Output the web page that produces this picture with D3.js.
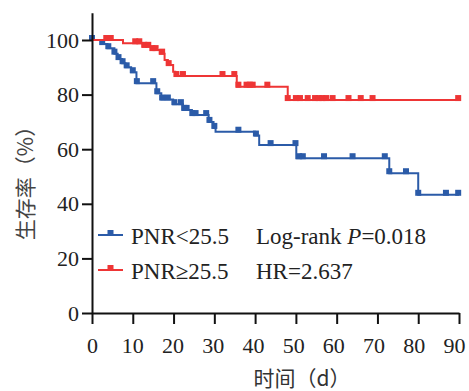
<!DOCTYPE html>
<html>
<head>
<meta charset="utf-8">
<script src="https://cdn.jsdelivr.net/npm/d3@7/dist/d3.min.js"></script>
<style>
  body { margin: 0; background: #fff; }
  svg { display: block; }
  .axis path, .axis line { stroke: #111; stroke-width: 2; }
</style>
</head>
<body>
<svg id="chart"></svg>
<script>
// step points of each KM curve (day, survival %)
const blueTimes = [0, 2.3, 3.8, 5.5, 6.3, 7.4, 8.2, 9.6, 10.9, 15.8, 17, 19.9, 22.3, 24.5, 28.6, 29.8, 30.3, 40, 41, 50.1, 72.9, 80, 90];
const blueSurv  = [100, 98.5, 97, 95, 93, 91.5, 90, 88.2, 84.2, 80.5, 78.2, 76.5, 74.4, 72.5, 70, 67.8, 66.4, 65, 61.5, 56.7, 51.2, 43.3, 43.3];
const blueCensor = [0, 2.5, 4, 5.5, 6.5, 7.5, 8.5, 10, 11, 15, 16, 17.2, 18.6, 20.2, 21.8, 22.6, 23.2, 24.6, 25.4, 28, 28.8, 30, 35.9, 40.2, 43.8, 49.9, 50.8, 51.7, 56.9, 63.9, 71.8, 72.9, 77, 80, 86.8, 89.8];

const redTimes = [0, 7.6, 12.5, 14.5, 16.6, 17.8, 18.6, 19.9, 20.4, 35.5, 48, 90];
const redSurv  = [100, 98.8, 97.5, 96.3, 95, 92.7, 90.8, 88.4, 86.8, 82.9, 78, 78];
const redCensor = [3.5, 4.6, 10.6, 11.6, 12.8, 13.8, 14.8, 15.6, 17.2, 18.8, 20.7, 22.3, 32, 34.9, 35.9, 37.9, 38.7, 39.4, 43, 48, 50, 51, 52.9, 54.7, 55.6, 56.5, 57.4, 59, 62.9, 65.9, 68.8, 89.8];

const xTicks = [0, 10, 20, 30, 40, 50, 60, 70, 80, 90];
const yTicks = [0, 20, 40, 60, 80, 100];

const groups = [
  { name: "PNR<25.5", note: "Log-rank ", noteItalic: "P", noteRest: "=0.018", times: blueTimes, surv: blueSurv, censor: blueCensor, color: "#2b5ba8" },
  { name: "PNR\u226525.5", note: "HR=2.637", noteItalic: "", noteRest: "", times: redTimes, surv: redSurv, censor: redCensor, color: "#ee3535" },
];

const width = 469, height = 391;
const svg = d3.select("#chart").attr("width", width).attr("height", height);

const x = d3.scaleLinear().domain([0, 90]).range([92, 459]);
const y = d3.scaleLinear().domain([0, 110]).range([313, 12.7]);

// survival value at time t (step function)
function survAt(g, t) {
  let s = g.surv[0];
  for (let i = 0; i < g.times.length; i++) {
    if (g.times[i] <= t) s = g.surv[i];
  }
  return s;
}

const line = d3.line()
  .x((d) => x(d[0]))
  .y((d) => y(d[1]))
  .curve(d3.curveStepAfter);

groups.forEach((g) => {
  const pts = g.times.map((t, i) => [t, g.surv[i]]);
  svg.append("path")
    .attr("d", line(pts))
    .attr("fill", "none")
    .attr("stroke", g.color)
    .attr("stroke-width", 2);

  svg.append("g")
    .selectAll("rect")
    .data(g.censor)
    .enter()
    .append("rect")
    .attr("x", (t) => x(t) - 3)
    .attr("y", (t) => y(survAt(g, t)) - 5)
    .attr("width", 6)
    .attr("height", 6)
    .attr("fill", g.color);
});

// axes
const xAxis = svg.append("g")
  .attr("class", "axis")
  .attr("transform", "translate(0,313)")
  .call(d3.axisBottom(x).tickValues(xTicks).tickSize(11).tickSizeOuter(0).tickFormat(d3.format("d")));

const yAxis = svg.append("g")
  .attr("class", "axis")
  .attr("transform", "translate(92,0)")
  .call(d3.axisLeft(y).tickValues(yTicks).tickSize(10).tickSizeOuter(0));

svg.selectAll(".axis").attr("font-family", "Liberation Serif").attr("font-size", 22);
svg.selectAll(".axis text").attr("fill", "#222");
// labels in the original drift a little left toward the right end
xAxis.selectAll("text").attr("y", 24).attr("dx", (d) => -d * 0.055);
yAxis.selectAll("text").attr("x", -13);

// axis titles
svg.append("text")
  .attr("transform", "translate(33,178) rotate(-90)")
  .attr("text-anchor", "middle")
  .style("font-family", "'Noto Sans CJK SC'")
  .style("font-size", "21px")
  .style("fill", "#444")
  .text("生存率（%）");

svg.append("text")
  .attr("x", 302)
  .attr("y", 386)
  .attr("text-anchor", "middle")
  .style("font-family", "'Noto Sans CJK SC'")
  .style("font-size", "21px")
  .style("fill", "#333")
  .text("时间（d）");

// legend
const legend = svg.append("g");
groups.forEach((g, i) => {
  const ly = 235 + i * 35;
  legend.append("line")
    .attr("x1", 98).attr("x2", 123)
    .attr("y1", ly).attr("y2", ly)
    .attr("stroke", g.color).attr("stroke-width", 2);
  legend.append("rect")
    .attr("x", 107.5).attr("y", ly - 5)
    .attr("width", 6).attr("height", 6)
    .attr("fill", g.color);
  legend.append("text")
    .attr("x", 131).attr("y", ly + 9)
    .style("font-family", "'Liberation Serif'")
    .style("font-size", "23px")
    .style("fill", "#222")
    .text(g.name);
  const t = legend.append("text")
    .attr("x", 256).attr("y", ly + 9)
    .style("font-family", "'Liberation Serif'")
    .style("font-size", "23px")
    .style("fill", "#222");
  t.append("tspan").text(g.note);
  if (g.noteItalic) t.append("tspan").style("font-style", "italic").text(g.noteItalic);
  if (g.noteRest) t.append("tspan").text(g.noteRest);
});
</script>
</body>
</html>
